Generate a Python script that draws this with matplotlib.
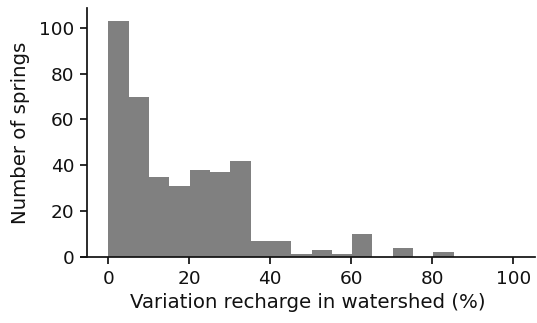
import matplotlib
matplotlib.use("Agg")
import matplotlib.pyplot as plt
import numpy as np

bin_starts = [0, 5.02, 10.04, 15.06, 20.08, 25.1, 30.12, 35.14, 40.16, 45.18,
              50.2, 55.22, 60.24, 65.26, 70.28, 75.3, 80.32, 85.34, 90.36, 95.38]
counts = [103, 70, 35, 31, 38, 37, 42, 7, 7, 1, 3, 1, 10, 0, 4, 0, 2, 0, 0, 0]
bin_width = 5.02
xticks = [0, 20, 40, 60, 80, 100]
yticks = [0, 20, 40, 60, 80, 100]

plt.rcParams['font.family'] = ['DejaVu Sans']
fig = plt.figure(figsize=(5.37, 3.23), dpi=100)
ax = fig.add_axes([81/537, 1 - 256.7/323, (535 - 81)/537, (256.7 - 8)/323])

ax.bar(bin_starts, counts, width=bin_width, align='edge', color='#808080', linewidth=0)

ax.set_xlim(-6.74, 105.4)
ax.set_ylim(0, 108.7)
ax.set_xticks(xticks)
ax.set_yticks(yticks)

for s in ['top', 'right']:
    ax.spines[s].set_visible(False)
ax.spines['left'].set_position(('data', -5.19))
for s in ['left', 'bottom']:
    ax.spines[s].set_linewidth(1.25)
    ax.spines[s].set_color('#111111')
ax.tick_params(axis='both', which='major', length=5, width=1.25, color='#111111',
               labelsize=13.3, labelcolor='#111111', pad=4.5)

ax.set_xlabel('Variation recharge in watershed (%)', fontsize=14.2, color='#111111', labelpad=4)
ax.set_ylabel('Number of springs', fontsize=14.2, color='#111111', labelpad=6)

fig.savefig('out.png', dpi=100)
